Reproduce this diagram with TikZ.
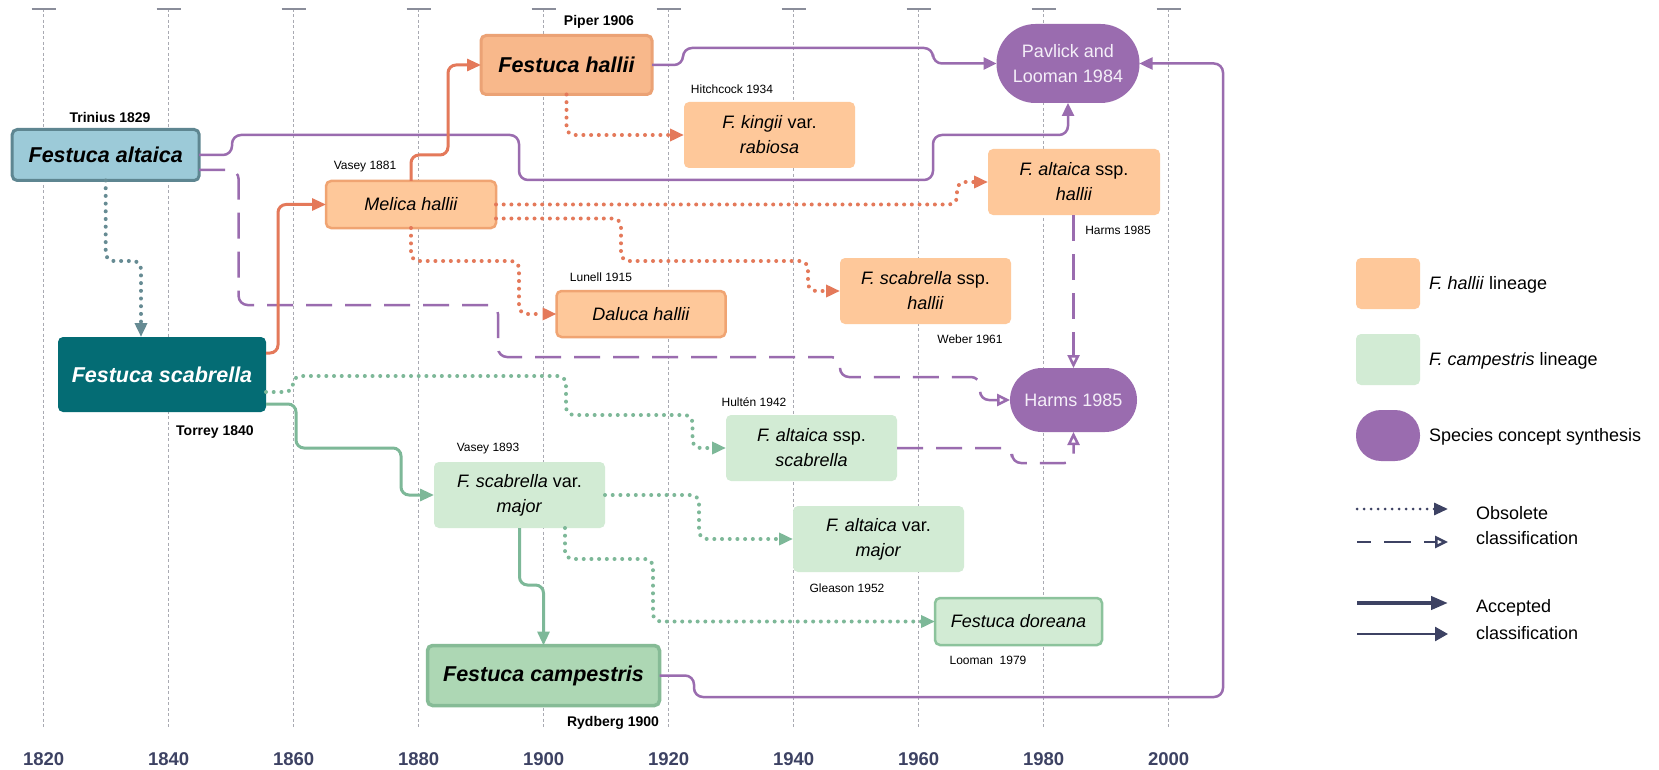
\documentclass[tikz,border=0pt]{standalone}
\usepackage{fontspec}
\setmainfont{Liberation Sans}
\usetikzlibrary{arrows.meta}
\definecolor{hallFill}{HTML}{F8B88B}
\definecolor{hallDraw}{HTML}{EBA275}
\definecolor{peach}{HTML}{FEC89A}
\definecolor{peachDraw}{HTML}{F0A472}
\definecolor{altFill}{HTML}{9CCAD8}
\definecolor{altDraw}{HTML}{5E8691}
\definecolor{scabFill}{HTML}{046C74}
\definecolor{lgreen}{HTML}{D2EBD4}
\definecolor{dorDraw}{HTML}{8CC39C}
\definecolor{campFill}{HTML}{ADD7B4}
\definecolor{campDraw}{HTML}{86BB96}
\definecolor{purp}{HTML}{9A6CAF}
\definecolor{pavText}{HTML}{F4EEF8}
\definecolor{orng}{HTML}{E4795A}
\definecolor{grn}{HTML}{7DB898}
\definecolor{slate}{HTML}{668B93}
\definecolor{navy}{HTML}{3D4263}
\definecolor{gridc}{HTML}{A9AAB2}
\definecolor{tickc}{HTML}{8A8D9A}
\begin{document}
\begin{tikzpicture}[x=1pt,y=-1pt,
  every node/.style={inner sep=0pt, outer sep=0pt},
  fs/.style={font=\fontsize{18}{25}\selectfont, align=center},
  big/.style={font=\fontsize{21.5}{25}\selectfont\bfseries\itshape},
  dl/.style={font=\fontsize{12}{14}\selectfont},
  dlb/.style={font=\fontsize{14}{16}\selectfont\bfseries},
  yr/.style={font=\fontsize{18.5}{22}\selectfont\bfseries, text=navy},
  lgt/.style={font=\fontsize{18}{25}\selectfont, anchor=west},
  box/.style={rounded corners=5pt, align=center},
  acc/.style={line width=3pt, rounded corners=8pt, -{Triangle[length=14pt,width=12pt]}},
  obs/.style={line width=4pt, line cap=round, dash pattern=on 0pt off 7.7pt, rounded corners=8pt, -{Triangle[length=14pt,width=12pt]}},
  dsh/.style={line width=2.5pt, dash pattern=on 26pt off 13pt, rounded corners=9pt, -{Triangle[open,length=13pt,width=12pt]}},
  syn/.style={line width=2.5pt, rounded corners=9pt, -{Triangle[length=13pt,width=12pt]}}]

\fill[white] (0,0) rectangle (1659,770);
\useasboundingbox (0,0) rectangle (1659,770);

% grid
\foreach \i in {0,...,9}{
  \pgfmathsetmacro{\gx}{43.6+125*\i}
  \pgfmathtruncatemacro{\yy}{1820+20*\i}
  \draw[gridc, line width=0.8pt, dash pattern=on 3pt off 2.5pt] (\gx,9) -- (\gx,728);
  \draw[tickc, line width=1.2pt] (\gx-12,9) -- (\gx+12,9);
  \node[yr] (y\i) at (\gx,759) {\yy};
}

% nodes
\node[box, draw=altDraw, line width=3pt, fill=altFill, minimum width=187pt, minimum height=51pt, big] (alt) at (105.7,155) {Festuca altaica};
\node[box, fill=scabFill, text=white, minimum width=208pt, minimum height=75pt, big] (scab) at (162,374.5) {Festuca scabrella};
\node[box, draw=hallDraw, line width=3pt, fill=hallFill, minimum width=171pt, minimum height=59pt, big] (fh) at (566.5,65) {Festuca hallii};
\node[box, draw=peachDraw, line width=2.5pt, fill=peach, minimum width=170pt, minimum height=47pt, fs] (mel) at (411,204.5) {\itshape Melica hallii};
\node[box, fill=peach, minimum width=171pt, minimum height=66pt, fs] (king) at (769.5,135) {\textit{F. kingii} var.\\\textit{rabiosa}};
\node[box, draw=peachDraw, line width=2.5pt, fill=peach, minimum width=169pt, minimum height=46pt, fs] (dal) at (641,314) {\itshape Daluca hallii};
\node[box, fill=peach, minimum width=171pt, minimum height=66pt, fs] (sch) at (925.5,291) {\textit{F. scabrella} ssp.\\\textit{hallii}};
\node[box, fill=peach, minimum width=172pt, minimum height=66pt, fs] (ahal) at (1074,182) {\textit{F. altaica} ssp.\\\textit{hallii}};
\node[fill=purp, rounded corners=39pt, minimum width=143pt, minimum height=79pt, fs, text=pavText] (pav) at (1068,63.5) {Pavlick and\\Looman 1984};
\node[fill=purp, rounded corners=32pt, minimum width=127pt, minimum height=64pt, fs, text=pavText] (harms) at (1073.5,400) {Harms 1985};
\node[box, fill=lgreen, minimum width=171pt, minimum height=66pt, fs] (asc) at (811.5,448) {\textit{F. altaica} ssp.\\\textit{scabrella}};
\node[box, fill=lgreen, minimum width=171pt, minimum height=66pt, fs] (vmaj) at (519.5,495) {\textit{F. scabrella} var.\\\textit{major}};
\node[box, fill=lgreen, minimum width=171pt, minimum height=66pt, fs] (avm) at (878.5,539) {\textit{F. altaica} var.\\\textit{major}};
\node[box, draw=dorDraw, line width=2.5pt, fill=lgreen, minimum width=167pt, minimum height=47pt, fs] (dor) at (1018.5,621.5) {\itshape Festuca doreana};
\node[box, draw=campDraw, line width=3.5pt, fill=campFill, minimum width=232pt, minimum height=60pt, big] (camp) at (543.5,675.5) {Festuca campestris};

% date labels
\node[dlb] (lTrin) at (110,117) {Trinius 1829};
\node[dlb] (lPiper) at (599,22) {Piper 1906};
\node[dl] (lVas1) at (365,167) {Vasey 1881};
\node[dl] (lHitch) at (732,89) {Hitchcock 1934};
\node[dl] (lLun) at (601,277) {Lunell 1915};
\node[dl] (lWeb) at (970,339) {Weber 1961};
\node[dl] (lHarms) at (1118,230) {Harms 1985};
\node[dlb] (lTor) at (215,432) {Torrey 1840};
\node[dl] (lHul) at (754,402) {Hultén 1942};
\node[dl] (lVas2) at (488,449) {Vasey 1893};
\node[dl] (lGle) at (847,588) {Gleason 1952};
\node[dl] (lLoo) at (988,660) {Looman\ \ 1979};
\node[dlb] (lRyd) at (613,723) {Rydberg 1900};

% synthesis connectors (purple)
\draw[syn, purp] (alt.east) -- (232,155) -- (232,135) -- (519,135) -- (519,180) -- (933,180) -- (933,135) -- (pav.south |- 0,135) -- (pav.south);
\draw[syn, purp] (fh.east) -- (683,65) -- (683,48) -- (933,48) |- (pav.west);
\draw[syn, purp] (camp.east) -- (694,675.5) -- (694,697) -- (1223,697) |- (pav.east);
\draw[dsh, purp] ([shift={(0,15)}]alt.east) -- (238.6,170) -- (238.6,305) -- (498,305) -- (498,357) -- (840,357) -- (840,377) -- (980,377) |- (harms.west);
\draw[dsh, purp] (harms.north |- ahal.south) -- (harms.north);
\draw[dsh, purp] (asc.east) -- (1012,448) -- (1012,463) -| (harms.south);

% hallii lineage
\draw[acc, orng] ([shift={(0,-21.5)}]scab.east) -- (278,353) |- (mel.west);
\draw[acc, orng] (mel.north) |- (448,155) |- (fh.west);
\draw[obs, orng] (fh.south) |- (king.west);
\draw[obs, orng] (mel.east) -- (957,204.5) |- (ahal.west);
\draw[obs, orng] ([shift={(0,14)}]mel.east) -- (621,218.5) -- (621,261) -- (808,261) |- (sch.west);
\draw[obs, orng] (mel.south) |- (519,261) |- (dal.west);

% altaica -> scabrella
\draw[obs, slate] (alt.south) |- (141,261) -- ([shift={(-21,0)}]scab.north);

% campestris lineage
\draw[obs, grn] ([shift={(0,17.5)}]scab.east) -- (293,392) -- (293,376) -- (566,376) -- (566,415) -- (692.5,415) |- (asc.west);
\draw[acc, grn] ([shift={(0,29.5)}]scab.east) -- (296,404) -- (296,448) -- (401,448) |- (vmaj.west);
\draw[acc, grn] (vmaj.south) -- (519.5,585) -| (camp.north);
\draw[obs, grn] (vmaj.east) -- (699,495) |- (avm.west);
\draw[obs, grn] ([shift={(45.5,0)}]vmaj.south) -- (565,559) -- (653,559) |- (dor.west);

% legend
\node[fill=peach, rounded corners=5pt, minimum width=64pt, minimum height=51pt] (lg1) at (1388,283.5) {};
\node[lgt] (lt1) at (1429,285) {\textit{F. hallii} lineage};
\node[fill=lgreen, rounded corners=5pt, minimum width=64pt, minimum height=51pt] (lg2) at (1388,359.5) {};
\node[lgt] (lt2) at (1429,361) {\textit{F. campestris} lineage};
\node[fill=purp, rounded corners=25pt, minimum width=64pt, minimum height=51pt] (lg3) at (1388,435.5) {};
\node[lgt] (lt3) at (1429,437) {Species concept synthesis};
\coordinate (la1) at (1357,509); \coordinate (lb1) at (1448,509);
\coordinate (la2) at (1357,542); \coordinate (lb2) at (1448,542);
\coordinate (la3) at (1357,603); \coordinate (lb3) at (1448,603);
\coordinate (la4) at (1357,634); \coordinate (lb4) at (1448,634);
\draw[obs, navy, line width=3pt, dash pattern=on 0pt off 7pt] (la1) -- (lb1);
\draw[dsh, navy, dash pattern=on 27pt off 13pt, dash phase=13pt] (la2) -- (lb2);
\draw[navy, line width=4pt, -{Triangle[length=17pt,width=13pt]}] (la3) -- (lb3);
\draw[navy, line width=2.5pt, -{Triangle[length=13pt,width=14pt]}] (la4) -- (lb4);
\node[lgt] (lt4) at (1476,513) {Obsolete};
\node[lgt] (lt5) at (1476,538) {classification};
\node[lgt] (lt6) at (1476,608) {Accepted};
\node[lgt] (lt7) at (1476,633) {classification};
\end{tikzpicture}
\end{document}
